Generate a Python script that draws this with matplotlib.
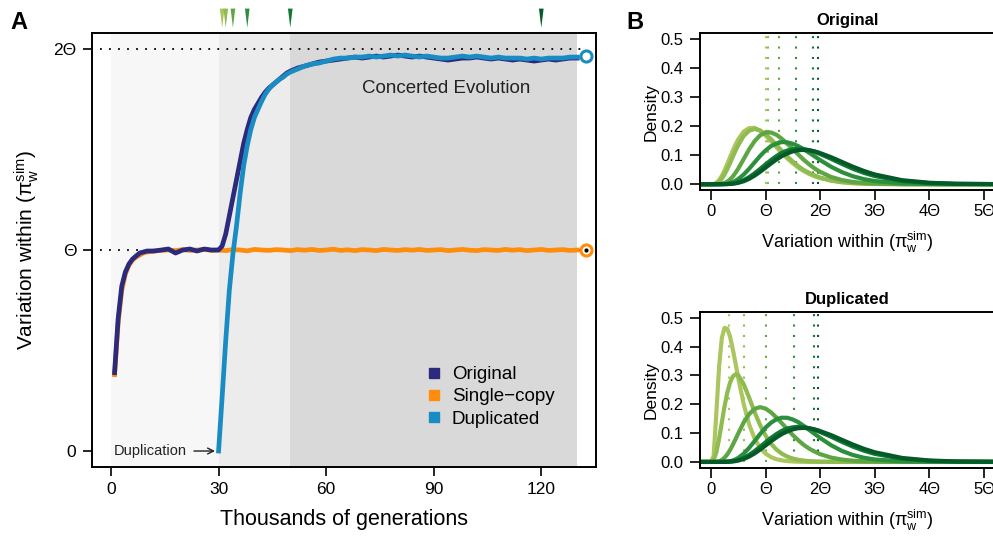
import numpy as np
import matplotlib
matplotlib.use("Agg")
import matplotlib.pyplot as plt
import matplotlib.transforms as mtransforms
from matplotlib.lines import Line2D
from matplotlib.path import Path

plt.rcParams["font.family"] = ["Liberation Sans", "DejaVu Sans"]
plt.rcParams["mathtext.fontset"] = "custom"
plt.rcParams["mathtext.rm"] = "Liberation Sans"
plt.rcParams["mathtext.it"] = "Liberation Sans:italic"
plt.rcParams["mathtext.bf"] = "Liberation Sans:bold"

# -------------------------------------------------------------------------
# DATA: panel A (thousands of generations, variation in units of Theta)
# -------------------------------------------------------------------------
gens_orig = list(range(1, 11)) + list(range(12, 31, 2)) + list(range(31, 51)) + list(range(52, 131, 2))
orig_vals = [
    0.39, 0.66, 0.82, 0.89, 0.93, 0.955, 0.97, 0.985, 0.99, 0.995,
    0.995, 1.0, 1.005, 0.985, 1.0, 1.005, 0.995, 1.005, 1.0, 1.0,
    1.02, 1.08, 1.17, 1.26, 1.35, 1.44, 1.53, 1.60, 1.66, 1.70,
    1.73, 1.76, 1.785, 1.805, 1.82, 1.835, 1.85, 1.865, 1.88, 1.89,
    1.905, 1.915, 1.925, 1.935, 1.94, 1.945, 1.95, 1.955, 1.96, 1.955,
    1.96, 1.965, 1.96, 1.965, 1.97, 1.965, 1.96, 1.965, 1.96, 1.955,
    1.95, 1.945, 1.95, 1.955, 1.955, 1.96, 1.955, 1.95, 1.955, 1.95,
    1.945, 1.95, 1.945, 1.94, 1.945, 1.95, 1.945, 1.95, 1.955, 1.955,
]

gens_dup = list(range(30, 51)) + list(range(52, 131, 2))
dup_vals = [
    0.0, 0.27, 0.55, 0.80, 0.98, 1.12, 1.28, 1.42, 1.52, 1.60, 1.66,
    1.70, 1.74, 1.775, 1.80, 1.82, 1.835, 1.85, 1.86, 1.875, 1.885,
    1.90, 1.915, 1.925, 1.93, 1.94, 1.95, 1.955, 1.955, 1.96, 1.96,
    1.965, 1.96, 1.965, 1.97, 1.965, 1.97, 1.965, 1.96, 1.965, 1.96,
    1.955, 1.955, 1.96, 1.965, 1.96, 1.965, 1.96, 1.955, 1.96, 1.955,
    1.955, 1.955, 1.95, 1.955, 1.95, 1.955, 1.955, 1.955, 1.96, 1.96,
]

gens_single = list(range(1, 11)) + list(range(12, 131, 2))
single_vals = [
    0.38, 0.64, 0.80, 0.88, 0.925, 0.95, 0.965, 0.975, 0.985, 0.99,
    0.995, 0.998, 1.0, 0.997, 1.002, 0.998, 1.0, 1.003, 0.998, 1.0,
    0.997, 1.002, 1.0, 0.996, 1.003, 1.0, 0.998, 1.002, 1.0, 0.997,
    1.002, 0.999, 1.003, 0.998, 1.0, 1.004, 0.998, 1.001, 0.997, 1.002,
    1.0, 0.997, 1.003, 1.0, 0.998, 1.002, 0.999, 1.003, 0.998, 1.0,
    1.002, 0.997, 1.0, 1.003, 0.999, 0.997, 1.002, 1.0, 0.998, 1.003,
    0.999, 1.002, 0.997, 1.0, 1.003, 0.998, 1.0, 1.002, 0.998, 1.0,
]

end_gen = [132.6]
end_dup = [1.965]
end_single = [1.0]

phase_spans = [(0, 30), (30, 50), (50, 130)]
phase_colors = ["#f7f7f8", "#ececec", "#d9d9d9"]
ref_levels = [1, 2]

sample_gens = [31, 32, 34, 38, 50, 120]
greens = ["#abc65e", "#8fbb50", "#5ea543", "#2c8f3e", "#107735", "#045a28"]

series_labels = ["Original", "Single\u2212copy", "Duplicated"]
series_colors = ["#2b2a7c", "#ff8c0a", "#1a8cc4"]

# -------------------------------------------------------------------------
# DATA: panel B (variation in units of Theta, density)
# -------------------------------------------------------------------------
dens_x = [-0.2, 0, 0.05, 0.1, 0.15, 0.2, 0.25, 0.3, 0.35, 0.4, 0.45, 0.5,
          0.6, 0.7, 0.8, 0.9, 1.0, 1.1, 1.2, 1.3, 1.4, 1.5, 1.6, 1.7, 1.8, 1.9, 2.0,
          2.2, 2.4, 2.6, 2.8, 3.0, 3.5, 4.0, 4.5, 5.5]

orig_d1 = [0, 0, .0006, .0046, .014, .0287, .048, .0696, .0926, .115, .136, .154,
           .181, .193, .194, .184, .168, .148, .127, .107, .088, .072, .057, .045, .035, .027, .021,
           .012, .0066, .0036, .0019, .001, 0, 0, 0, 0]
orig_d2 = [0, 0, .0002, .0024, .0082, .0187, .0335, .052, .0725, .094, .115, .134,
           .166, .184, .19, .185, .172, .155, .135, .115, .095, .078, .062, .049, .039, .030, .023,
           .013, .0072, .0039, .002, .001, 0, 0, 0, 0]
orig_d3 = [0, 0, 0, .0001, .0004, .0016, .0043, .0091, .0164, .0263, .0389, .0535,
           .0866, .120, .148, .168, .178, .178, .170, .156, .139, .121, .102, .084, .068, .054, .0425,
           .025, .0142, .0077, .0041, .0021, .0004, 0, 0, 0]
orig_d4 = [0, 0, 0, 0, 0, .0003, .0009, .0021, .0041, .0073, .0117, .0176,
           .0332, .053, .075, .097, .116, .131, .140, .145, .144, .139, .131, .120, .108, .0955, .083,
           .060, .0414, .0273, .0174, .0108, .0029, .0007, 0, 0]
orig_d5 = [0, 0, 0, 0, 0, .0001, .0002, .0006, .0014, .0025, .0043, .0067,
           .0139, .0243, .0375, .0524, .068, .083, .0966, .108, .116, .120, .122, .121, .117, .1115, .104,
           .0874, .0696, .0531, .0391, .028, .0108, .0037, .0011, 0]
orig_d6 = [0, 0, 0, 0, 0, 0, .0001, .0004, .0009, .0017, .0029, .0047,
           .0102, .0185, .0295, .0426, .0569, .0714, .085, .0968, .106, .113, .117, .118, .1166, .113, .107,
           .093, .0765, .0602, .0456, .0335, .0138, .005, .0016, 0]

dup_d1 = [0, 0, .02, .17, .33, .43, .465, .462, .435, .392, .343, .292,
          .201, .130, .081, .049, .0288, .0166, .0094, .0053, .0029, .0016, .0008, .0004, 0, 0, 0,
          0, 0, 0, 0, 0, 0, 0, 0, 0]
dup_d2 = [0, 0, .0057, .033, .080, .137, .193, .240, .275, .296, .304, .301,
          .270, .223, .173, .128, .0917, .063, .043, .0283, .0184, .0118, .0074, .0046, .0029, .0018, .0011,
          .0004, 0, 0, 0, 0, 0, 0, 0, 0]
dup_d3 = [0, 0, 0, .0005, .0023, .0068, .0146, .0262, .041, .059, .0784, .0985,
          .137, .166, .184, .19, .185, .172, .154, .134, .113, .093, .075, .059, .046, .0357, .027,
          .0151, .0081, .0042, .0021, .001, 0, 0, 0, 0]
dup_d4 = [0, 0, 0, 0, .0001, .0002, .0005, .0012, .0027, .0051, .0088, .0139,
          .0286, .0488, .0723, .0965, .119, .136, .148, .1535, .153, .147, .138, .125, .111, .097, .083,
          .058, .038, .024, .0145, .0085, .002, .0004, 0, 0]

orig_means = [1.0, 1.05, 1.24, 1.56, 1.87, 1.96]
dup_means = [0.335, 0.60, 1.01, 1.52, 1.89, 1.96]

theta_ticks = [0, 1, 2, 3, 4, 5]
theta_labels = ["0", "\u0398", "2\u0398", "3\u0398", "4\u0398", "5\u0398"]
density_ticks = [0.0, 0.1, 0.2, 0.3, 0.4, 0.5]

var_label = r"Variation within ($\mathrm{\pi}_\mathrm{w}^\mathrm{sim}$)"

# -------------------------------------------------------------------------
# FIGURE
# -------------------------------------------------------------------------
fig = plt.figure(figsize=(9.93, 5.40), dpi=100)

# ---- panel A ------------------------------------------------------------
ax = fig.add_axes([0.093, 0.135, 0.507, 0.804])
for (x0, x1), c in zip(phase_spans, phase_colors):
    ax.axvspan(x0, x1, color=c, lw=0, zorder=0)
for lvl in ref_levels:
    ax.plot([-3, 131.5], [lvl, lvl], ls=(0, (1, 4)), color="black", lw=1.3, zorder=1)

ax.plot(gens_single, single_vals, color=series_colors[1], lw=3.4, zorder=2)
ax.plot(gens_orig, orig_vals, color=series_colors[0], lw=3.4, zorder=3)
ax.plot(gens_dup, dup_vals, color=series_colors[2], lw=3.4, zorder=4)

ax.plot(end_gen, end_dup, ls="none", marker="o", ms=8, mfc="white",
        mec=series_colors[2], mew=2.2, zorder=5, clip_on=False)
ax.plot(end_gen, end_single, ls="none", marker="o", ms=8, mfc="white",
        mec=series_colors[1], mew=2.2, zorder=5, clip_on=False)
ax.plot(end_gen, end_single, ls="none", marker="o", ms=2, color="black", zorder=6)

# sampling-time markers above the panel
tri = Path([(-0.12, 0.5), (0.12, 0.5), (0, -0.5), (-0.12, 0.5)],
           [Path.MOVETO, Path.LINETO, Path.LINETO, Path.CLOSEPOLY])
trans = mtransforms.blended_transform_factory(ax.transData, ax.transAxes)
ax.scatter(sample_gens, [1.034] * len(sample_gens), marker=tri, s=190, c=greens,
           linewidths=0, transform=trans, clip_on=False, zorder=6)

ax.text(93.4, 1.805, "Concerted Evolution", fontsize=13.5, ha="center", va="center", color="#222222")
ax.annotate("Duplication", xy=(29.0, 0.0), xytext=(21.2, 0.0), ha="right", va="center",
            fontsize=10.5, color="#222222",
            arrowprops=dict(arrowstyle="->", lw=1.0, color="#222222", shrinkA=3, shrinkB=0))

handles = [Line2D([], [], ls="none", marker="s", ms=7, color=c) for c in series_colors]
ax.legend(handles, series_labels, loc="upper left", bbox_to_anchor=(0.664, 0.233),
          frameon=False, fontsize=13.5, handlelength=0.8, handletextpad=0.55,
          labelspacing=0.28, borderpad=0, borderaxespad=0)

ax.set_xlim(-5.2, 135.2)
ax.set_ylim(-0.08, 2.08)
ax.set_xticks([0, 30, 60, 90, 120])
ax.set_yticks([0, 1, 2])
ax.set_yticklabels(["0", "\u0398", "2\u0398"])
ax.tick_params(direction="out", length=6.5, width=1.2, labelsize=12.5)
ax.tick_params(axis="x", pad=4)
ax.tick_params(axis="y", pad=5)
for s in ax.spines.values():
    s.set_linewidth(1.4)
ax.set_xlabel("Thousands of generations", fontsize=15.5, labelpad=9)
ax.set_ylabel(var_label, fontsize=15, labelpad=9)

# ---- panel B ------------------------------------------------------------
panels = [
    ("Original", [0.7049, 0.6481, 0.2971, 0.2907], [orig_d1, orig_d2, orig_d3, orig_d4, orig_d5, orig_d6], orig_means),
    ("Duplicated", [0.7049, 0.1339, 0.2971, 0.2883], [dup_d1, dup_d2, dup_d3, dup_d4, orig_d5, orig_d6], dup_means),
]
for title, pos, curves, means in panels:
    bx = fig.add_axes(pos)
    for m, c in zip(means, greens):
        bx.vlines(m, 0, 0.52, colors=c, linestyles=(0, (1, 4)), lw=1.5, zorder=1)
    for dens, c in zip(curves, greens):
        bx.plot(dens_x, dens, color=c, lw=3, zorder=2)
    bx.set_xlim(-0.2, 5.2)
    bx.set_ylim(-0.02, 0.52)
    bx.set_xticks(theta_ticks)
    bx.set_xticklabels(theta_labels)
    bx.set_yticks(density_ticks)
    bx.set_yticklabels([f"{v:.1f}" for v in density_ticks])
    bx.tick_params(direction="out", length=7, width=1.2, labelsize=12)
    bx.tick_params(axis="x", pad=3)
    bx.tick_params(axis="y", pad=5)
    for s in bx.spines.values():
        s.set_linewidth(1.4)
    bx.set_title(title, fontsize=12, fontweight="bold", pad=6)
    bx.set_xlabel(var_label, fontsize=13, labelpad=8)
    bx.set_ylabel("Density", fontsize=12.5, labelpad=1)

fig.text(0.010, 0.980, "A", fontsize=17, fontweight="bold", va="top")
fig.text(0.631, 0.980, "B", fontsize=17, fontweight="bold", va="top")

fig.savefig("out.png", dpi=100)
